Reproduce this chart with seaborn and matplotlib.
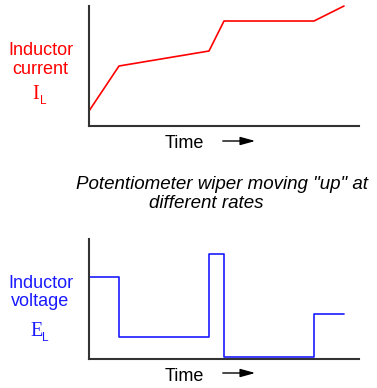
import matplotlib
matplotlib.use("Agg")
import matplotlib.pyplot as plt
import seaborn as sns

sns.set_style("white")
plt.rcParams['font.family'] = ['Liberation Sans', 'DejaVu Sans']
plt.rcParams['text.color'] = 'black'

# data (time in arbitrary units)
time = [0, 1, 4, 4.5, 7.5, 8.5]
current = [1, 4, 5, 7, 7, 8]
voltage = [5.5, 1.5, 7, 0.15, 3, 3]

W, H = 377, 388
fig = plt.figure(figsize=(W / 100, H / 100), dpi=100)


def fx(px):
    return px / W


def fy(py):
    return 1 - py / H


ax_top = fig.add_axes([fx(89), fy(126), fx(270), 120 / H])
ax_bot = fig.add_axes([fx(89), fy(359), fx(270), 120 / H])

sns.lineplot(x=time, y=current, ax=ax_top, color='#ff0000', lw=1.2, clip_on=False)
sns.lineplot(x=time, y=voltage, ax=ax_bot, color='#1a1aff', lw=1.2,
             drawstyle='steps-post', clip_on=False)

for ax in (ax_top, ax_bot):
    ax.set_xlim(0, 9)
    ax.set_ylim(0, 8)
    ax.set_xticks([])
    ax.set_yticks([])
    ax.set_xlabel("")
    ax.set_ylabel("")
    for s in ('top', 'right'):
        ax.spines[s].set_visible(False)
    for s in ('left', 'bottom'):
        ax.spines[s].set_color('#333333')
        ax.spines[s].set_linewidth(1.5)

# side labels
fig.text(fx(40.5), fy(55), "Inductor", color='#ff0000', fontsize=13, ha='center', va='baseline')
fig.text(fx(40.5), fy(74), "current", color='#ff0000', fontsize=13, ha='center', va='baseline')
fig.text(fx(36), fy(99), "I", color='#ff0000', fontsize=14.5, ha='center', va='baseline',
         family='Liberation Serif')
fig.text(fx(40), fy(104), "L", color='#ff0000', fontsize=8.5, ha='left', va='baseline')

fig.text(fx(40.5), fy(288), "Inductor", color='#1a1aff', fontsize=13, ha='center', va='baseline')
fig.text(fx(40.5), fy(306), "voltage", color='#1a1aff', fontsize=13, ha='center', va='baseline')
fig.text(fx(36.5), fy(336), "E", color='#1a1aff', fontsize=14.5, ha='center', va='baseline',
         family='Liberation Serif')
fig.text(fx(42), fy(341), "L", color='#1a1aff', fontsize=8.5, ha='left', va='baseline')

# time labels with arrows
for base, ay in ((148, 141), (381, 373)):
    fig.text(fx(184), fy(base), "Time", color='black', fontsize=13, ha='center', va='baseline')
    fig.add_artist(matplotlib.patches.FancyArrowPatch(
        (fx(220), fy(ay)), (fx(258), fy(ay)), transform=fig.transFigure,
        arrowstyle='-|>,head_length=0.9,head_width=0.25', mutation_scale=10,
        color='black', lw=1))

# middle caption
fig.text(fx(222), fy(189), 'Potentiometer wiper moving "up" at', fontsize=13.5,
         style='italic', ha='center', va='baseline')
fig.text(fx(206), fy(208), 'different rates', fontsize=13.5,
         style='italic', ha='center', va='baseline')

fig.savefig("out.png", dpi=100)
